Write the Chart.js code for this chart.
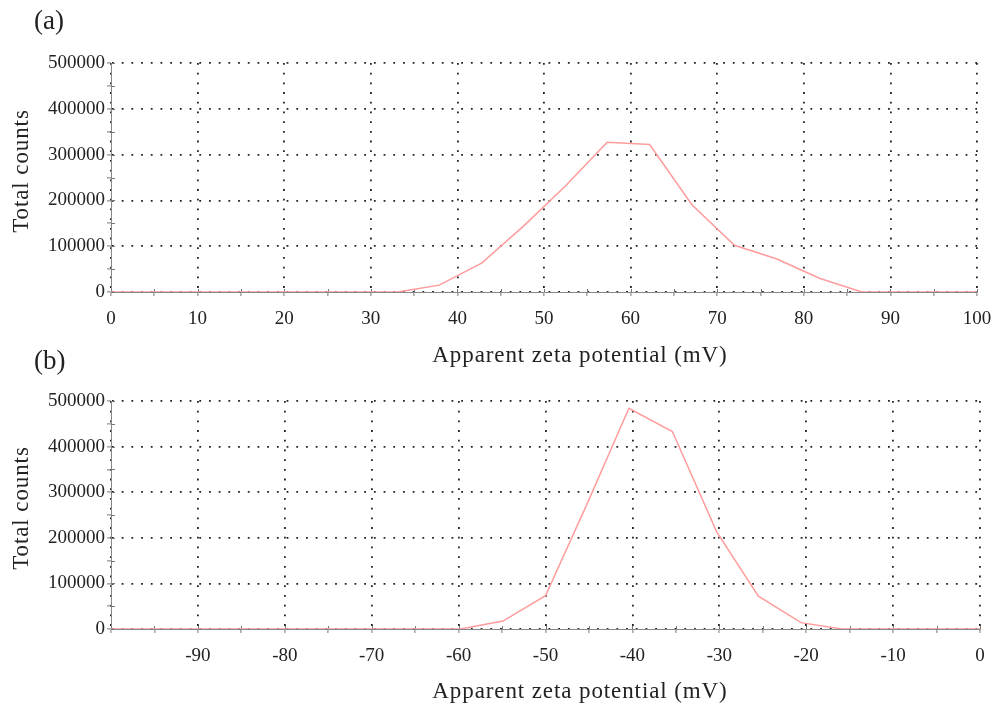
<!DOCTYPE html>
<html>
<head>
<meta charset="utf-8">
<script src="https://cdn.jsdelivr.net/npm/chart.js@4.4.1/dist/chart.umd.min.js"></script>
<style>
  body { margin: 0; background: #fff; width: 993px; height: 708px; position: relative; overflow: hidden; }
  .box { position: absolute; left: 0; width: 993px; }
  .tag { position: absolute; font-family: "Liberation Serif", serif; font-size: 27px; line-height: 30px; color: #222; }
  .xt, .yt { position: absolute; font-family: "Liberation Serif", serif; font-size: 23px; line-height: 28px;
             letter-spacing: 0.9px; color: #222; text-align: center; white-space: nowrap; }
  .xt { width: 400px; }
  .yt { width: 200px; transform: rotate(-90deg); }
</style>
</head>
<body>
<div class="box" style="top:0;height:372px"><canvas id="chartA"></canvas></div>
<div class="box" style="top:340px;height:368px"><canvas id="chartB"></canvas></div>
<div class="tag" style="left:34px;top:5px">(a)</div>
<div class="tag" style="left:34px;top:345px">(b)</div>
<div class="xt" id="xtA" style="left:380px;top:341px"></div>
<div class="xt" id="xtB" style="left:380px;top:677px"></div>
<div class="yt" id="ytA" style="left:-79px;top:157px"></div>
<div class="yt" id="ytB" style="left:-79px;top:494px"></div>

<script>
// panel (a): positive zeta potential distribution
var posZeta   = [0, 33.1, 37.9, 42.8, 47.7, 52.5, 57.3, 62.2, 67.1, 72.0, 76.9, 81.8, 86.7, 100];
var posCounts = [0, 0, 15000, 63000, 145000, 232000, 327000, 322000, 190000, 102000, 72000, 30000, 0, 0];

// panel (b): negative zeta potential distribution
var negZeta   = [-100, -59.8, -54.9, -50.0, -45.2, -40.4, -35.4, -30.3, -25.5, -20.6, -15.9, 0];
var negCounts = [0, 0, 17500, 73000, 275000, 484000, 433000, 213000, 72000, 14000, 0, 0];

var xLabelsA = [0, 10, 20, 30, 40, 50, 60, 70, 80, 90, 100];
var xLabelsB = [-90, -80, -70, -60, -50, -40, -30, -20, -10, 0];
var yLabels  = [0, 100000, 200000, 300000, 400000, 500000];

var xTitle = 'Apparent zeta potential (mV)';
var yTitle = 'Total counts';

document.getElementById('xtA').textContent = xTitle;
document.getElementById('xtB').textContent = xTitle;
document.getElementById('ytA').textContent = yTitle;
document.getElementById('ytB').textContent = yTitle;

// tick marks that cross the axis line (Chart.js only draws them outside)
var crossTicks = {
  id: 'crossTicks',
  beforeDatasetsDraw: function(chart) {
    var ctx = chart.ctx, x = chart.scales.x, y = chart.scales.y;
    ctx.save();
    ctx.strokeStyle = '#777';
    ctx.lineWidth = 1;
    ctx.beginPath();
    x.ticks.forEach(function(t) {
      var px = Math.round(x.getPixelForValue(t.value)) + 0.5;
      ctx.moveTo(px, y.bottom);
      ctx.lineTo(px, y.bottom - 3);
    });
    y.ticks.forEach(function(t) {
      var py = Math.round(y.getPixelForValue(t.value)) + 0.5;
      ctx.moveTo(x.left, py);
      ctx.lineTo(x.left + 4, py);
    });
    ctx.stroke();
    ctx.restore();
  }
};

function makeChart(id, xs, ys, xMin, xMax, xLabels, padTop, padRight, xHeight) {
  var points = xs.map(function(v, i) { return { x: v, y: ys[i] }; });
  return new Chart(document.getElementById(id), {
    type: 'line',
    data: {
      datasets: [{
        data: points,
        borderColor: '#ff9c9c',
        borderWidth: 1.5,
        pointRadius: 0,
        tension: 0,
        fill: false
      }]
    },
    options: {
      responsive: true,
      maintainAspectRatio: false,
      animation: false,
      layout: { padding: { top: padTop, right: padRight, left: 0, bottom: 0 } },
      plugins: { legend: { display: false }, tooltip: { enabled: false } },
      scales: {
        x: {
          type: 'linear',
          min: xMin,
          max: xMax,
          afterFit: function(s) { s.height = xHeight; s.paddingRight = 0; s.paddingLeft = 0; },
          ticks: {
            stepSize: 5,
            autoSkip: false,
            maxRotation: 0,
            padding: 12,
            color: '#222',
            font: { family: 'Liberation Serif', size: 19 },
            callback: function(v) { return xLabels.indexOf(v) >= 0 ? String(v) : ''; }
          },
          grid: {
            lineWidth: 1.8,
            color: function(c) { return (c.tick && c.tick.value % 10 === 0) ? '#222' : 'rgba(0,0,0,0)'; },
            tickColor: '#777',
            tickLength: 4,
            tickWidth: 1
          },
          border: { display: true, color: '#888', width: 1, dash: [1.8, 7.9] }
        },
        y: {
          min: 0,
          max: 500000,
          afterFit: function(s) { s.width = 111; s.paddingTop = 0; s.paddingBottom = 0; },
          ticks: {
            stepSize: 50000,
            autoSkip: false,
            padding: 2,
            color: '#222',
            font: { family: 'Liberation Serif', size: 19 },
            callback: function(v) { return yLabels.indexOf(v) >= 0 ? String(v) : ''; }
          },
          grid: {
            lineWidth: 1.8,
            color: function(c) { return (c.tick && c.tick.value % 100000 === 0) ? '#222' : 'rgba(0,0,0,0)'; },
            tickColor: '#777',
            tickLength: 4,
            tickWidth: 1
          },
          border: { display: true, color: '#888', width: 1, dash: [1.8, 7.9] }
        }
      }
    },
    plugins: [crossTicks]
  });
}

makeChart('chartA', posZeta, posCounts, 0, 100, xLabelsA, 63, 16, 80);
makeChart('chartB', negZeta, negCounts, -100, 0, xLabelsB, 61, 13, 79);
</script>
</body>
</html>
